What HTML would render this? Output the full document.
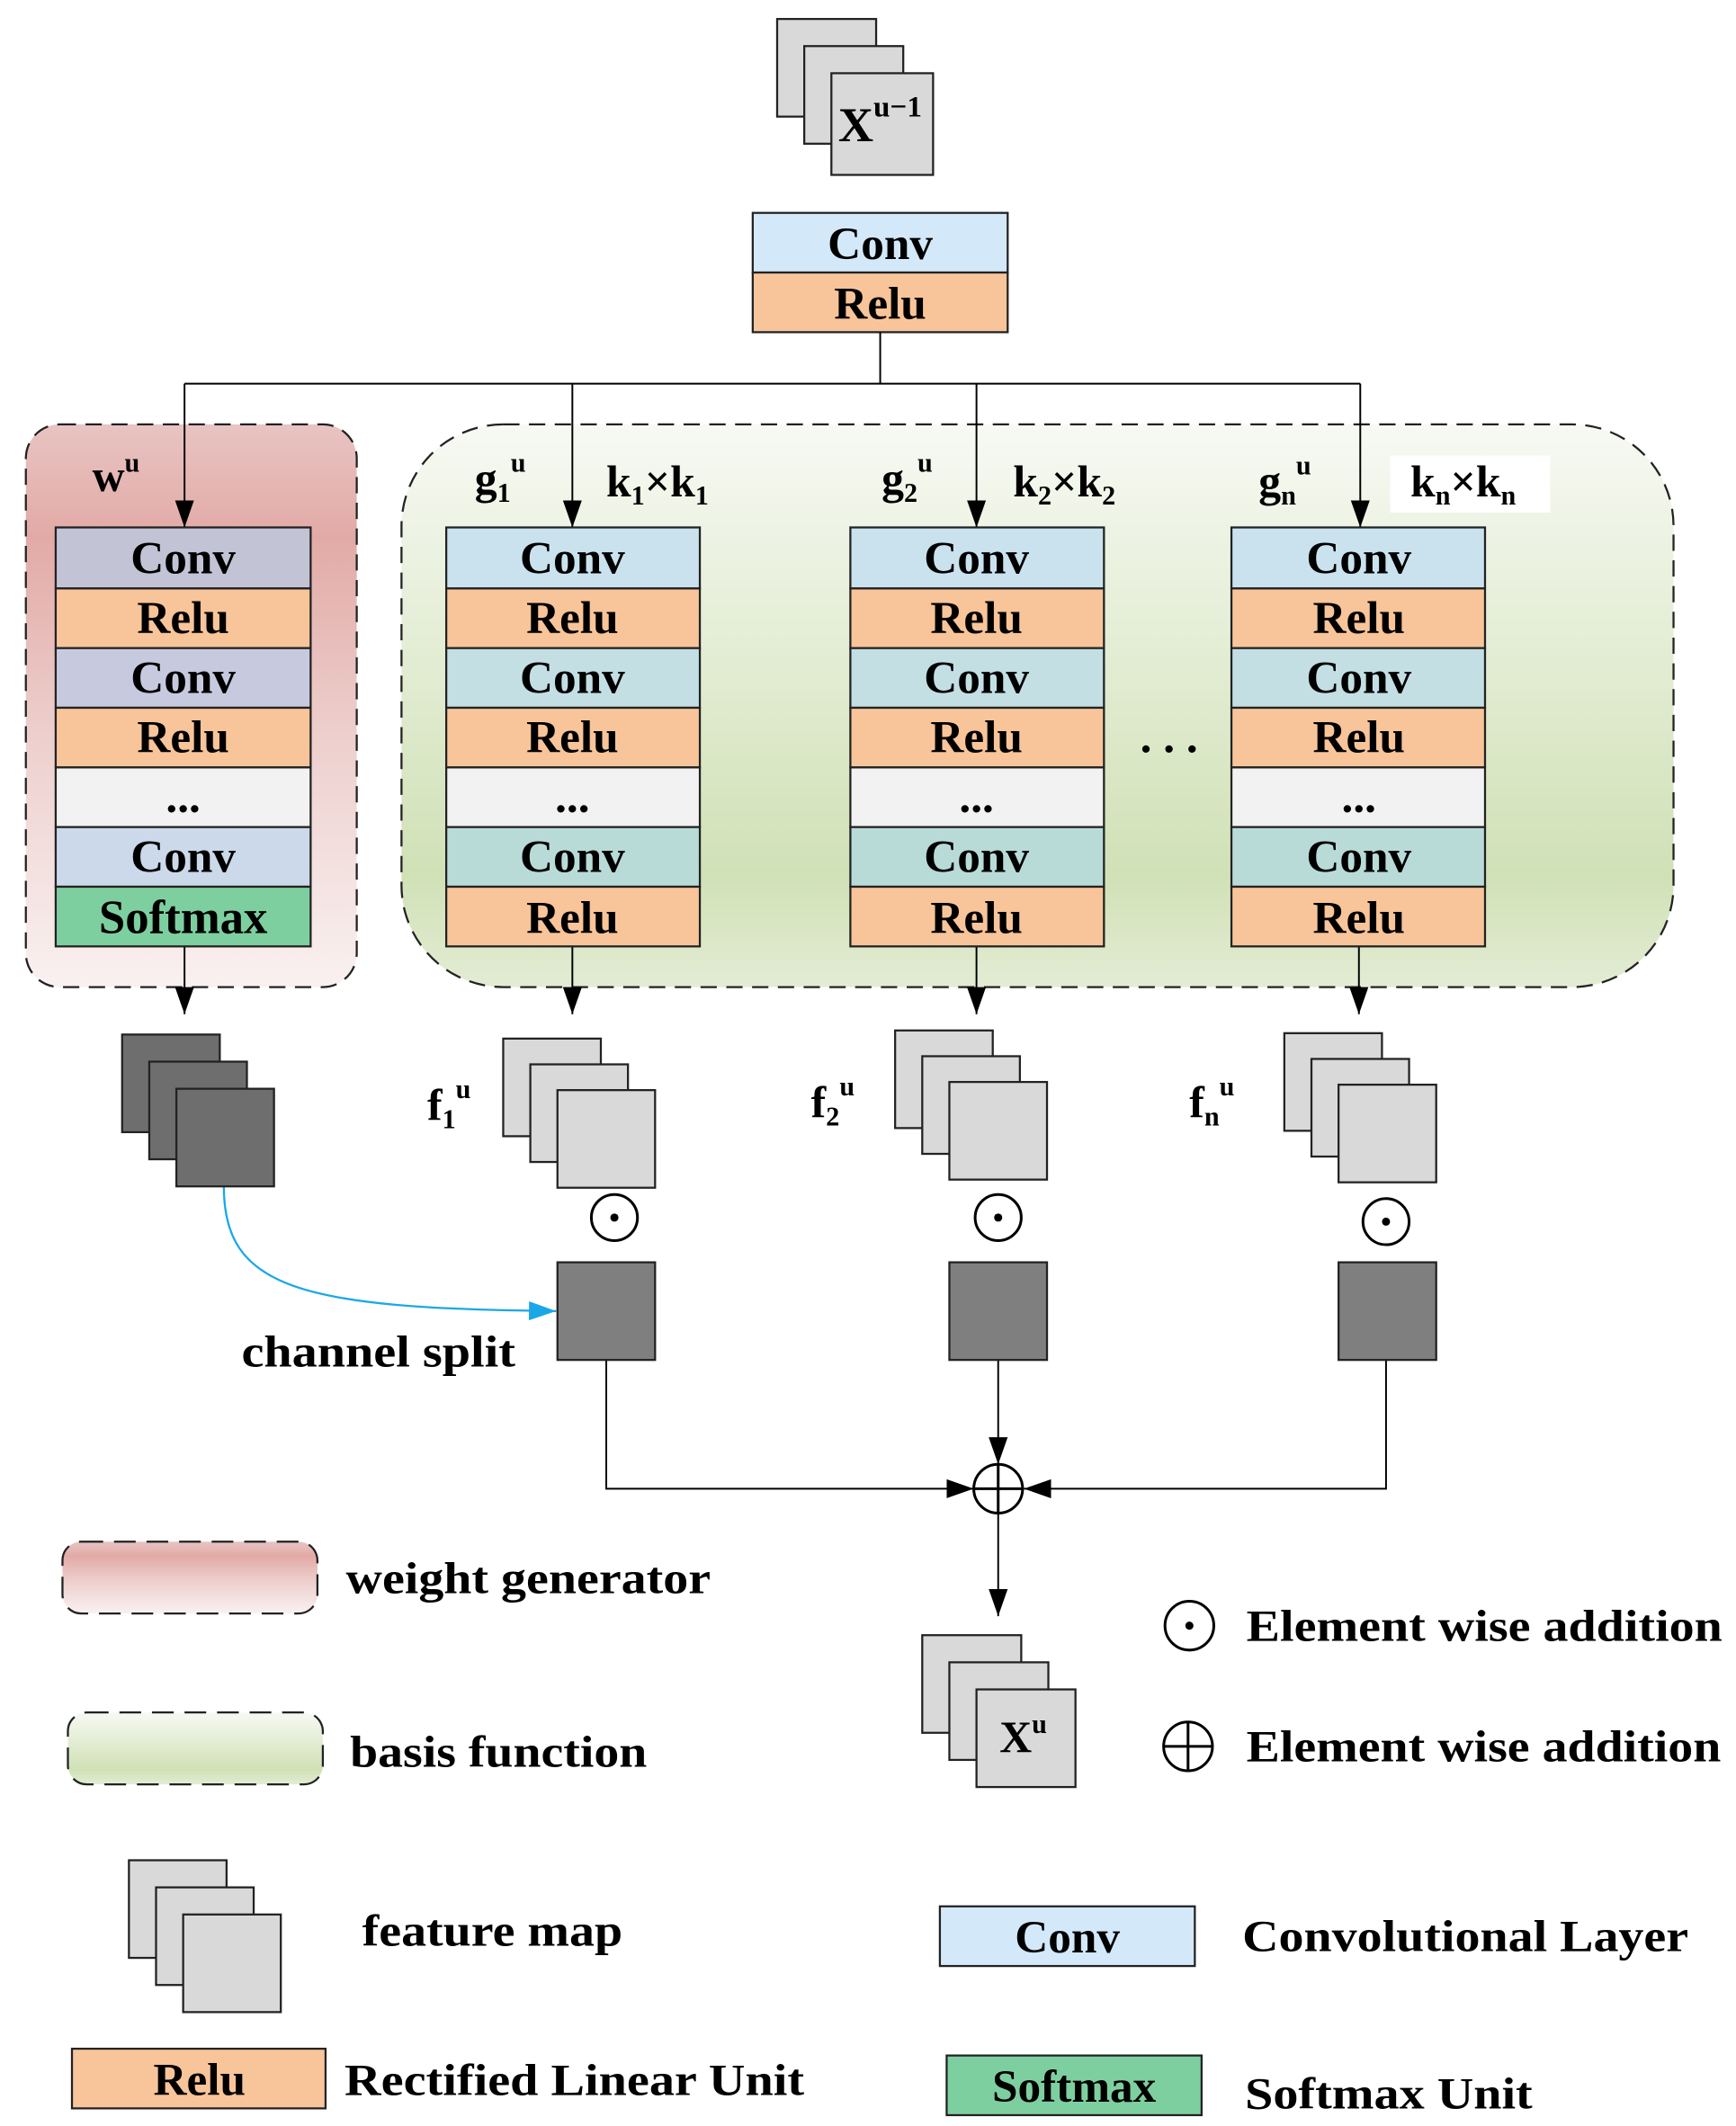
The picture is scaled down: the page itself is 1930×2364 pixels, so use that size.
<!DOCTYPE html>
<html><head><meta charset="utf-8"><style>html,body{margin:0;padding:0;background:#fff}svg{display:block}</style></head><body>
<svg width="1930" height="2364" viewBox="0 0 1280 1568" xmlns="http://www.w3.org/2000/svg" font-family="'Liberation Serif', serif" font-weight="bold">
<defs>
<linearGradient id="rg" x1="0" y1="0" x2="0" y2="1"><stop offset="0" stop-color="#e8c4c2"/><stop offset="0.2" stop-color="#e2aaa6"/><stop offset="0.55" stop-color="#edcfcd"/><stop offset="1" stop-color="#f9f1f0"/></linearGradient>
<linearGradient id="gg" x1="0" y1="0" x2="0" y2="1"><stop offset="0" stop-color="#f7f9f3"/><stop offset="0.8" stop-color="#d0e1b6"/><stop offset="1" stop-color="#e3ecd4"/></linearGradient>
<marker id="ar2" viewBox="0 0 20 14" markerWidth="20" markerHeight="14" refX="20" refY="7" orient="auto" markerUnits="userSpaceOnUse"><path d="M0,0 L20,7 L0,14 z" fill="#000"/></marker>
<marker id="ab" viewBox="0 0 20 14" markerWidth="20" markerHeight="14" refX="20" refY="7" orient="auto" markerUnits="userSpaceOnUse"><path d="M0,0 L20,7 L0,14 z" fill="#1aa7e8"/></marker>
</defs>
<g stroke="#222" stroke-width="1.5">
<rect x="573" y="14" width="73" height="72" fill="#d9d9d9"/><rect x="593" y="34" width="73" height="72" fill="#d9d9d9"/><rect x="613" y="54" width="75" height="75" fill="#d9d9d9"/>
<rect x="555" y="157" width="188" height="44" fill="#d3e8f8"/><rect x="555" y="201" width="188" height="44" fill="#f8c499"/>
<rect x="19" y="313" width="244" height="415" rx="25" fill="url(#rg)" stroke-dasharray="12,7"/>
<rect x="296" y="313" width="938" height="415" rx="75" fill="url(#gg)" stroke-dasharray="12,7"/>
</g>
<rect x="1025" y="336" width="118" height="42" fill="#fff"/>
<g fill="none" stroke="#000" stroke-width="1.3">
<path d="M649 245 V283 M136 283 H1003"/>
<path d="M136 283 V389" marker-end="url(#ar2)"/><path d="M422 283 V389" marker-end="url(#ar2)"/><path d="M720 283 V389" marker-end="url(#ar2)"/><path d="M1003 283 V389" marker-end="url(#ar2)"/>
<path d="M136 698 V748" marker-end="url(#ar2)"/><path d="M422 698 V748" marker-end="url(#ar2)"/><path d="M720 698 V748" marker-end="url(#ar2)"/><path d="M1002 698 V748" marker-end="url(#ar2)"/>
<path d="M447 1003 V1098 H718" marker-end="url(#ar2)"/><path d="M736 1003 V1080" marker-end="url(#ar2)"/><path d="M1022 1003 V1098 H755" marker-end="url(#ar2)"/><path d="M736 1116 V1192" marker-end="url(#ar2)"/>
</g>
<path d="M165 875 C165 950 220 965 410 967" fill="none" stroke="#1aa7e8" stroke-width="1.5" marker-end="url(#ab)"/>
<g stroke="#222" stroke-width="1.5">
<rect x="41" y="389" width="188" height="45" fill="#c3c3d6"/><rect x="41" y="434" width="188" height="44" fill="#f8c499"/><rect x="41" y="478" width="188" height="44" fill="#c7cadf"/><rect x="41" y="522" width="188" height="44" fill="#f8c499"/><rect x="41" y="566" width="188" height="44" fill="#f2f2f2"/><rect x="41" y="610" width="188" height="44" fill="#cbd9ea"/><rect x="41" y="654" width="188" height="44" fill="#7ecfa0"/>
<g id="s1"><rect x="329" y="389" width="187" height="45" fill="#c9e2ee"/><rect x="329" y="434" width="187" height="44" fill="#f8c499"/><rect x="329" y="478" width="187" height="44" fill="#c3dfe4"/><rect x="329" y="522" width="187" height="44" fill="#f8c499"/><rect x="329" y="566" width="187" height="44" fill="#f2f2f2"/><rect x="329" y="610" width="187" height="44" fill="#b9dbd8"/><rect x="329" y="654" width="187" height="44" fill="#f8c499"/></g>
<use href="#s1" x="298"/><use href="#s1" x="579"/>
<rect x="90" y="763" width="72" height="72" fill="#6e6e6e"/><rect x="110" y="783" width="72" height="72" fill="#6e6e6e"/><rect x="130" y="803" width="72" height="72" fill="#6e6e6e"/>
<g id="fm"><rect x="371" y="766" width="72" height="72" fill="#d9d9d9"/><rect x="391" y="785" width="72" height="72" fill="#d9d9d9"/><rect x="411" y="804" width="72" height="72" fill="#d9d9d9"/></g>
<use href="#fm" x="289" y="-6"/><use href="#fm" x="576" y="-4"/>
<rect x="411" y="931" width="72" height="72" fill="#7f7f7f"/><rect x="700" y="931" width="72" height="72" fill="#7f7f7f"/><rect x="987" y="931" width="72" height="72" fill="#7f7f7f"/>
<rect x="680" y="1206" width="73" height="72" fill="#d9d9d9"/><rect x="700" y="1226" width="73" height="72" fill="#d9d9d9"/><rect x="720" y="1246" width="73" height="72" fill="#d9d9d9"/>
<rect x="46" y="1137" width="188" height="53" rx="14" fill="url(#rg)" stroke-dasharray="16,8"/>
<rect x="50" y="1263" width="188" height="53" rx="14" fill="url(#gg)" stroke-dasharray="16,8"/>
<rect x="95" y="1372" width="72" height="72" fill="#d9d9d9"/><rect x="115" y="1392" width="72" height="72" fill="#d9d9d9"/><rect x="135" y="1412" width="72" height="72" fill="#d9d9d9"/>
<rect x="53" y="1511" width="187" height="44" fill="#f8c499"/>
<rect x="693" y="1406" width="188" height="44" fill="#d3e8f8"/>
<rect x="698" y="1516" width="188" height="44" fill="#7ecfa0"/>
</g>
<g fill="none" stroke="#000" stroke-width="2">
<circle cx="453" cy="898" r="17"/><circle cx="736" cy="898" r="17"/><circle cx="1022" cy="901" r="17"/>
<circle cx="877" cy="1199" r="18"/>
<circle cx="736" cy="1098" r="18"/><path d="M718 1098 H754 M736 1080 V1116"/>
<circle cx="876" cy="1288" r="18"/><path d="M858 1288 H894 M876 1270 V1306"/>
</g>
<g fill="#000"><circle cx="453" cy="898" r="3"/><circle cx="736" cy="898" r="3"/><circle cx="1022" cy="901" r="3"/><circle cx="877" cy="1199" r="3"/></g>
<g font-size="34" text-anchor="middle" fill="#000">
<text x="649" y="191">Conv</text><text x="649" y="235">Relu</text>
<text x="135" y="423">Conv</text><text x="135" y="467">Relu</text><text x="135" y="511">Conv</text><text x="135" y="555">Relu</text><text x="135" y="599">...</text><text x="135" y="643">Conv</text><text x="135" y="688" font-size="35">Softmax</text>
<text x="422" y="423">Conv</text><text x="422" y="467">Relu</text><text x="422" y="511">Conv</text><text x="422" y="555">Relu</text><text x="422" y="599">...</text><text x="422" y="643">Conv</text><text x="422" y="688">Relu</text>
<text x="720" y="423">Conv</text><text x="720" y="467">Relu</text><text x="720" y="511">Conv</text><text x="720" y="555">Relu</text><text x="720" y="599">...</text><text x="720" y="643">Conv</text><text x="720" y="688">Relu</text>
<text x="1002" y="423">Conv</text><text x="1002" y="467">Relu</text><text x="1002" y="511">Conv</text><text x="1002" y="555">Relu</text><text x="1002" y="599">...</text><text x="1002" y="643">Conv</text><text x="1002" y="688">Relu</text>
<text x="862" y="555">. . .</text>
<text x="147" y="1545">Relu</text><text x="787" y="1440">Conv</text><text x="792" y="1550">Softmax</text>
</g>
<g font-size="33" fill="#000">
<text x="618" y="104" font-size="36">X<tspan font-size="22" dy="-18">u−1</tspan></text>
<text x="737" y="1292">X<tspan font-size="20" dy="-14">u</tspan></text>
<text x="68" y="362">w<tspan font-size="20" dy="-14">u</tspan></text>
<text x="350" y="364">g<tspan font-size="20" dy="6">1</tspan><tspan font-size="20" dy="-22">u</tspan></text>
<text x="447" y="366">k<tspan font-size="20" dy="6">1</tspan><tspan dy="-6">×k</tspan><tspan font-size="20" dy="6">1</tspan></text>
<text x="650" y="364">g<tspan font-size="20" dy="6">2</tspan><tspan font-size="20" dy="-22">u</tspan></text>
<text x="747" y="366">k<tspan font-size="20" dy="6">2</tspan><tspan dy="-6">×k</tspan><tspan font-size="20" dy="6">2</tspan></text>
<text x="928" y="366">g<tspan font-size="20" dy="6">n</tspan><tspan font-size="20" dy="-22">u</tspan></text>
<text x="1040" y="366">k<tspan font-size="20" dy="6">n</tspan><tspan dy="-6">×k</tspan><tspan font-size="20" dy="6">n</tspan></text>
<text x="315" y="826">f<tspan font-size="20" dy="6">1</tspan><tspan font-size="20" dy="-22">u</tspan></text>
<text x="598" y="824">f<tspan font-size="20" dy="6">2</tspan><tspan font-size="20" dy="-22">u</tspan></text>
<text x="877" y="824">f<tspan font-size="20" dy="6">n</tspan><tspan font-size="20" dy="-22">u</tspan></text>
<text x="178" y="1008" textLength="202" lengthAdjust="spacingAndGlyphs">channel split</text>
<text x="255" y="1175" textLength="269" lengthAdjust="spacingAndGlyphs">weight generator</text>
<text x="258" y="1303" textLength="219" lengthAdjust="spacingAndGlyphs">basis function</text>
<text x="267" y="1435" textLength="192" lengthAdjust="spacingAndGlyphs">feature map</text>
<text x="254" y="1545" textLength="339" lengthAdjust="spacingAndGlyphs">Rectified Linear Unit</text>
<text x="919" y="1210" textLength="351" lengthAdjust="spacingAndGlyphs">Element wise addition</text>
<text x="919" y="1299" textLength="350" lengthAdjust="spacingAndGlyphs">Element wise addition</text>
<text x="916" y="1439" textLength="329" lengthAdjust="spacingAndGlyphs">Convolutional Layer</text>
<text x="918" y="1555" textLength="212" lengthAdjust="spacingAndGlyphs">Softmax Unit</text>
</g>
</svg>
</body></html>
